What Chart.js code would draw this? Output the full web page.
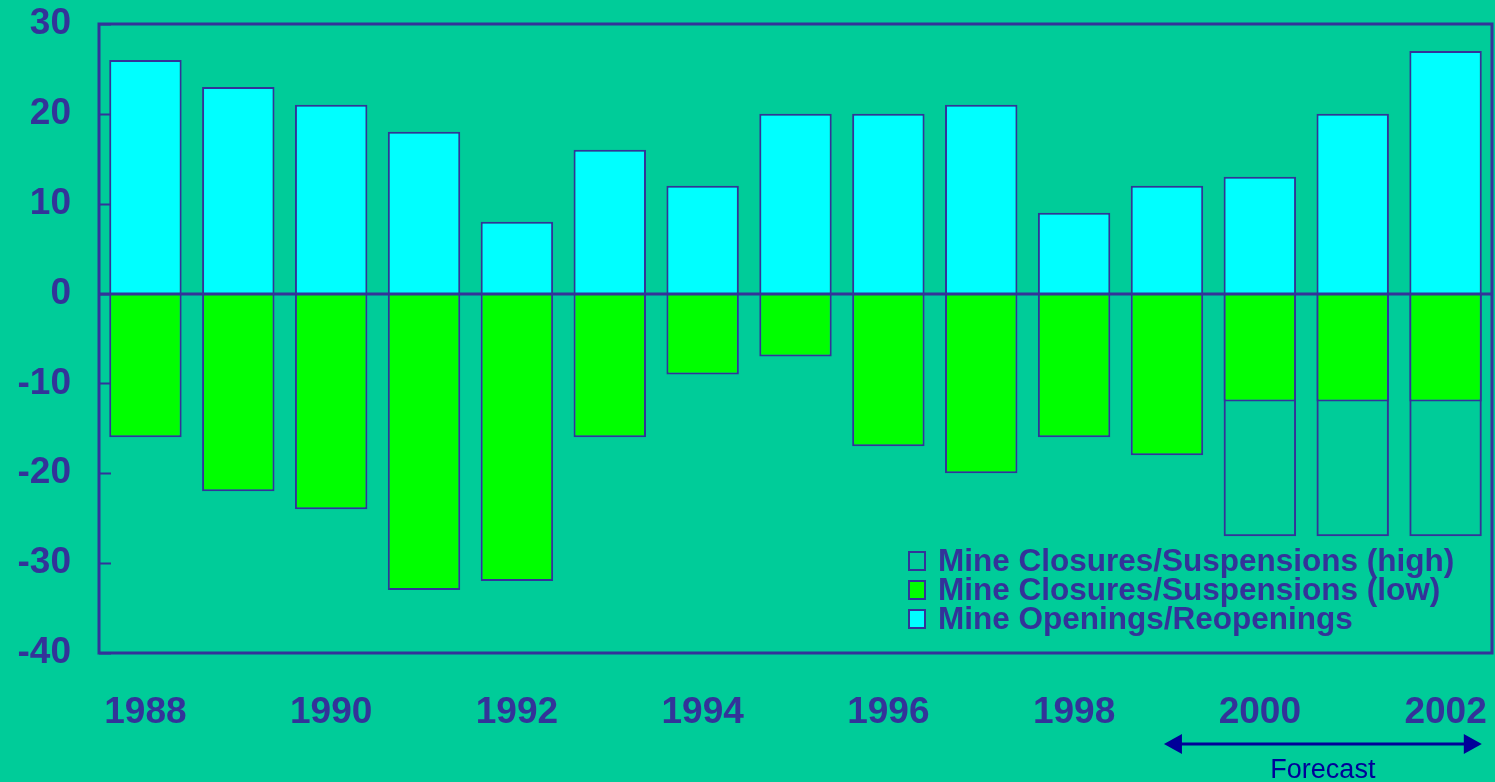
<!DOCTYPE html>
<html>
<head>
<meta charset="utf-8">
<script src="https://cdn.jsdelivr.net/npm/chart.js@4"></script>
<style>
  html, body { margin:0; padding:0; background:#00CC99; }
  #wrap { width:1495px; height:782px; position:relative; }
</style>
</head>
<body>
<div id="wrap"><canvas id="chart" width="1495" height="782"></canvas></div>
<script>
// ---- Data ----
const years = ['1988','1989','1990','1991','1992','1993','1994','1995','1996','1997','1998','1999','2000','2001','2002'];
const openings = [26, 23, 21, 18, 8, 16, 12, 20, 20, 21, 9, 12, 13, 20, 27];
const closuresLow = [-16, -22, -24, -33, -32, -16, -9, -7, -17, -20, -16, -18, -12, -12, -12];
const closuresHigh = [null, null, null, null, null, null, null, null, null, null, null, null, -27, -27, -27];
const forecastFrom = '1999';
const forecastTo = '2002';
const legendLabels = ['Mine Closures/Suspensions (high)', 'Mine Closures/Suspensions (low)', 'Mine Openings/Reopenings'];

const INK = '#333399';
const NAVY = '#000099';

// ---- Plugins ----
const frame = {
  id: 'frame',
  afterDatasetsDraw(chart){
    const {ctx, chartArea:a, scales:{y}} = chart;
    ctx.save();
    ctx.strokeStyle = INK; ctx.lineWidth = 3;
    ctx.strokeRect(a.left, a.top, a.right - a.left, a.bottom - a.top);
    // zero line + inward ticks on the y axis
    const z = Math.round(y.getPixelForValue(0));
    ctx.beginPath(); ctx.moveTo(a.left, z); ctx.lineTo(a.right, z); ctx.stroke();
    ctx.lineWidth = 2;
    y.ticks.forEach(t => {
      const py = Math.round(y.getPixelForValue(t.value)) + 0.5;
      ctx.beginPath(); ctx.moveTo(a.left, py); ctx.lineTo(a.left + 12, py); ctx.stroke();
    });
    ctx.restore();
  }
};

const legendBox = {
  id: 'legendBox',
  afterDraw(chart){
    const {ctx, chartArea:a} = chart;
    const fills = [null, '#00FF00', '#00FFFF'];
    const x0 = a.left + 810, y0 = a.top + 528;
    ctx.save();
    ctx.font = 'bold 31.5px "Liberation Sans", Arial, sans-serif';
    ctx.textBaseline = 'alphabetic';
    legendLabels.forEach((lab, i) => {
      const by = y0 + i * 29;
      if (fills[i]) { ctx.fillStyle = fills[i]; ctx.fillRect(x0, by, 16, 18); }
      ctx.strokeStyle = INK; ctx.lineWidth = 2;
      ctx.strokeRect(x0, by, 16, 18);
      ctx.fillStyle = INK;
      ctx.fillText(lab, x0 + 29, by + 19);
    });
    ctx.restore();
  }
};

const forecast = {
  id: 'forecast',
  afterDraw(chart){
    const {ctx, chartArea:a, scales:{x}} = chart;
    const half = chart.getDatasetMeta(0).data[0].width / 2;
    const x1 = x.getPixelForValue(years.indexOf(forecastFrom)) - 3;
    const x2 = x.getPixelForValue(years.indexOf(forecastTo)) + half;
    const yy = a.bottom + 91;
    ctx.save();
    ctx.strokeStyle = NAVY; ctx.fillStyle = NAVY; ctx.lineWidth = 3;
    ctx.beginPath(); ctx.moveTo(x1 + 10, yy); ctx.lineTo(x2 - 10, yy); ctx.stroke();
    ctx.beginPath(); ctx.moveTo(x1, yy); ctx.lineTo(x1 + 18, yy - 10); ctx.lineTo(x1 + 18, yy + 10); ctx.closePath(); ctx.fill();
    ctx.beginPath(); ctx.moveTo(x2, yy); ctx.lineTo(x2 - 18, yy - 10); ctx.lineTo(x2 - 18, yy + 10); ctx.closePath(); ctx.fill();
    ctx.font = '27px "Liberation Sans", Arial, sans-serif';
    ctx.textAlign = 'center'; ctx.textBaseline = 'alphabetic';
    ctx.fillText('Forecast', (x1 + x2) / 2, yy + 34);
    ctx.restore();
  }
};

// ---- Chart ----
const barCommon = { borderColor: INK, borderWidth: 2, borderSkipped: 'start', grouped: false, categoryPercentage: 1, barPercentage: 0.78 };

new Chart(document.getElementById('chart'), {
  type: 'bar',
  data: {
    labels: years,
    datasets: [
      { label: legendLabels[2], data: openings, backgroundColor: '#00FFFF', ...barCommon },
      { label: legendLabels[1], data: closuresLow, backgroundColor: '#00FF00', ...barCommon },
      { label: legendLabels[0], data: closuresHigh, backgroundColor: 'rgba(0,0,0,0)', ...barCommon }
    ]
  },
  options: {
    responsive: false,
    animation: false,
    layout: { padding: { top: 24, right: 3, bottom: 0, left: 0 } },
    plugins: { legend: { display: false }, tooltip: { enabled: false } },
    scales: {
      x: {
        grid: { display: false, drawTicks: false },
        border: { display: false },
        ticks: {
          color: INK, padding: 38, autoSkip: false, maxRotation: 0,
          font: { family: '"Liberation Sans", Arial, sans-serif', size: 37, weight: 'bold' },
          callback: (v, i) => i % 2 === 0 ? years[i] : ''
        },
        afterFit: (s) => { s.height = 129; s.paddingLeft = 0; s.paddingRight = 0; }
      },
      y: {
        min: -40, max: 30,
        grid: { display: false, drawTicks: false },
        border: { display: false },
        ticks: {
          stepSize: 10, color: INK, padding: 28,
          font: { family: '"Liberation Sans", Arial, sans-serif', size: 37, weight: 'bold' }
        },
        afterFit: (s) => { s.width = 99; s.paddingTop = 0; s.paddingBottom = 0; }
      }
    }
  },
  plugins: [frame, legendBox, forecast]
});
</script>
</body>
</html>
